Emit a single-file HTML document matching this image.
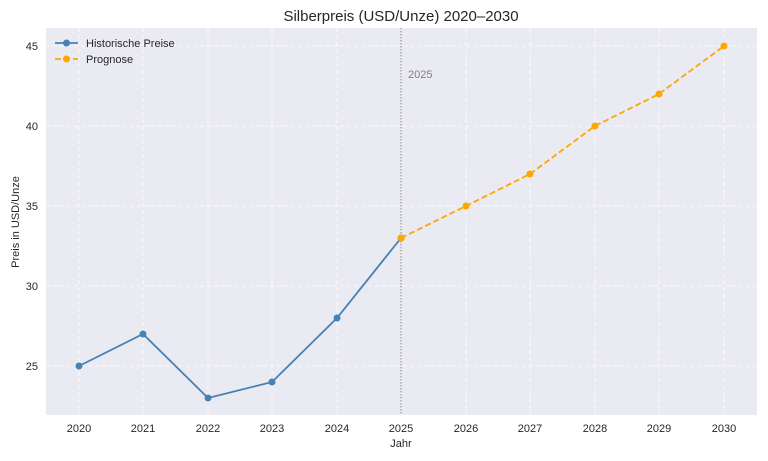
<!DOCTYPE html>
<html><head><meta charset="utf-8"><style>
body{margin:0;background:#fff;}
svg{display:block;font-family:"Liberation Sans","DejaVu Sans",sans-serif;}
</style></head><body>
<svg width="768" height="461" viewBox="0 0 768 461" xmlns="http://www.w3.org/2000/svg">
<rect width="768" height="461" fill="#fff"/>
<rect x="46" y="28" width="711" height="387" fill="#eaeaf2"/>
<g stroke="#fff" stroke-width="0.8" stroke-dasharray="4,3" opacity="0.9">
<line x1="79" y1="28" x2="79" y2="415"/><line x1="143" y1="28" x2="143" y2="415"/>
<line x1="208" y1="28" x2="208" y2="415"/><line x1="272" y1="28" x2="272" y2="415"/>
<line x1="337" y1="28" x2="337" y2="415"/><line x1="401" y1="28" x2="401" y2="415"/>
<line x1="466" y1="28" x2="466" y2="415"/><line x1="530" y1="28" x2="530" y2="415"/>
<line x1="595" y1="28" x2="595" y2="415"/><line x1="659" y1="28" x2="659" y2="415"/>
<line x1="724" y1="28" x2="724" y2="415"/>
<line x1="46" y1="46" x2="757" y2="46"/><line x1="46" y1="126" x2="757" y2="126"/>
<line x1="46" y1="206" x2="757" y2="206"/><line x1="46" y1="286" x2="757" y2="286"/>
<line x1="46" y1="366" x2="757" y2="366"/>
</g>
<line x1="401" y1="28" x2="401" y2="415" stroke="#888" stroke-width="1" stroke-dasharray="1.5,1.5"/>
<text x="408" y="78" font-size="11" fill="#808080">2025</text>
<polyline points="79,366 143,334 208,398 272,382 337,318 401,238" fill="none" stroke="#4682b4" stroke-width="1.8"/>
<g fill="#4682b4"><circle cx="79" cy="366" r="3.5"/><circle cx="143" cy="334" r="3.5"/><circle cx="208" cy="398" r="3.5"/><circle cx="272" cy="382" r="3.5"/><circle cx="337" cy="318" r="3.5"/><circle cx="401" cy="238" r="3.5"/></g>
<polyline points="401,238 466,206 530,174 595,126 659,94 724,46" fill="none" stroke="#ffa500" stroke-width="1.8" stroke-dasharray="6,3"/>
<g fill="#ffa500"><circle cx="401" cy="238" r="3.5"/><circle cx="466" cy="206" r="3.5"/><circle cx="530" cy="174" r="3.5"/><circle cx="595" cy="126" r="3.5"/><circle cx="659" cy="94" r="3.5"/><circle cx="724" cy="46" r="3.5"/></g>
<g font-size="11" fill="#262626" text-anchor="middle">
<text x="79" y="432">2020</text><text x="143" y="432">2021</text><text x="208" y="432">2022</text><text x="272" y="432">2023</text><text x="337" y="432">2024</text><text x="401" y="432">2025</text><text x="466" y="432">2026</text><text x="530" y="432">2027</text><text x="595" y="432">2028</text><text x="659" y="432">2029</text><text x="724" y="432">2030</text>
</g>
<g font-size="11" fill="#262626" text-anchor="end">
<text x="38" y="50">45</text><text x="38" y="130">40</text><text x="38" y="210">35</text><text x="38" y="290">30</text><text x="38" y="370">25</text>
</g>
<text x="401" y="447" font-size="11" fill="#262626" text-anchor="middle">Jahr</text>
<text transform="translate(19,222) rotate(-90)" font-size="11" fill="#262626" text-anchor="middle">Preis in USD/Unze</text>
<text x="401" y="21" font-size="15" fill="#262626" text-anchor="middle">Silberpreis (USD/Unze) 2020–2030</text>
<line x1="55" y1="43" x2="78" y2="43" stroke="#4682b4" stroke-width="1.8"/><circle cx="66.5" cy="43" r="3.5" fill="#4682b4"/>
<text x="86" y="47" font-size="11" fill="#262626">Historische Preise</text>
<line x1="55" y1="59" x2="78" y2="59" stroke="#ffa500" stroke-width="1.8" stroke-dasharray="6,3"/><circle cx="66.5" cy="59" r="3.5" fill="#ffa500"/>
<text x="86" y="63" font-size="11" fill="#262626">Prognose</text>
</svg>
</body></html>
